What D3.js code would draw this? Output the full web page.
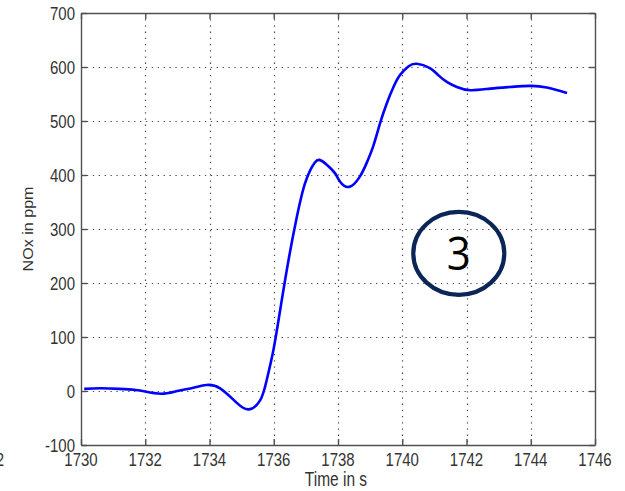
<!DOCTYPE html>
<html>
<head>
<meta charset="utf-8">
<script src="https://cdn.jsdelivr.net/npm/d3@7"></script>
<style>
  body { margin: 0; background: #fff; }
  svg { display: block; }
  .tick-label { font-family: "Liberation Sans", Arial, sans-serif; fill: #333; }
</style>
</head>
<body>
<svg id="chart" width="625" height="491"></svg>
<script>
// NOx trace
var times = [1730.1, 1730.6, 1731.2, 1731.7, 1732.0, 1732.5, 1733.0, 1733.5, 1733.9, 1734.33,
             1734.85, 1735.23, 1735.58, 1735.78, 1735.99, 1736.2, 1736.48, 1736.71, 1736.84, 1736.97,
             1737.13, 1737.28, 1737.42, 1737.65, 1737.91, 1738.06, 1738.35, 1738.68, 1738.89, 1739.1,
             1739.31, 1739.52, 1739.72, 1739.93, 1740.19, 1740.45, 1740.86, 1741.12, 1741.4, 1741.7,
             1742.12, 1742.74, 1743.36, 1743.99, 1744.5, 1745.13];
var nox = [4, 5, 4, 2, -1, -5, 0, 6, 11, 5,
           -22, -34, -17, 20, 76, 150, 249, 320, 355, 384,
           408, 423, 428, 419, 403, 388, 378, 397, 422, 454,
           496, 533, 562, 585, 601, 606, 598, 585, 572, 563,
           557, 560, 563, 565, 562, 552];

var xTicks = [1730, 1732, 1734, 1736, 1738, 1740, 1742, 1744, 1746];
var yTicks = [-100, 0, 100, 200, 300, 400, 500, 600, 700];
var xLabel = "Time in s";
var yLabel = "NOx in ppm";
var badge = "3";

// plot box (note: "top" is taken by window.top)
var boxL = 81, boxR = 595, boxT = 13, boxB = 445;
var svg = d3.select("#chart");

var x = d3.scaleLinear().domain([1730, 1746]).range([boxL, boxR]);
var y = d3.scaleLinear().domain([-100, 700]).range([boxB, boxT]);

// dotted grid
var grid = svg.append("g").attr("stroke", "#4a4a4a").attr("stroke-width", 1.2);
grid.selectAll("line.vg")
    .data(xTicks.slice(1, -1))
  .enter().append("line")
    .attr("x1", function (d) { return Math.round(x(d)) + 0.5; })
    .attr("x2", function (d) { return Math.round(x(d)) + 0.5; })
    .attr("y1", boxT).attr("y2", boxB)
    .attr("stroke-dasharray", "1.3,4.9");
grid.selectAll("line.hg")
    .data(yTicks.slice(1, -1))
  .enter().append("line")
    .attr("y1", function (d) { return Math.round(y(d)) + 0.5; })
    .attr("y2", function (d) { return Math.round(y(d)) + 0.5; })
    .attr("x1", boxL).attr("x2", boxR)
    .attr("stroke-dasharray", "1.3,4.6");

// axes, ticks pointing inward on all four sides
var tickLen = 6;
var xAxisB = d3.axisBottom(x).tickValues(xTicks).tickSize(-tickLen).tickSizeOuter(0).tickFormat("");
var xAxisT = d3.axisTop(x).tickValues(xTicks).tickSize(-tickLen).tickSizeOuter(0).tickFormat("");
var yAxisL = d3.axisLeft(y).tickValues(yTicks).tickSize(-tickLen).tickSizeOuter(0).tickFormat("");
var yAxisR = d3.axisRight(y).tickValues(yTicks).tickSize(-tickLen).tickSizeOuter(0).tickFormat("");

function styleAxis(g) {
    g.selectAll("path").attr("stroke", "#505050").attr("stroke-width", 1.4);
    g.selectAll("line").attr("stroke", "#505050").attr("stroke-width", 1.4);
}
svg.append("g").attr("transform", "translate(0," + boxB + ")").call(xAxisB).call(styleAxis);
svg.append("g").attr("transform", "translate(0," + boxT + ")").call(xAxisT).call(styleAxis);
svg.append("g").attr("transform", "translate(" + boxL + ",0)").call(yAxisL).call(styleAxis);
svg.append("g").attr("transform", "translate(" + boxR + ",0)").call(yAxisR).call(styleAxis);

// tick labels: the picture is a little stretched vertically
var fs = 15, stretch = 1.2;
svg.selectAll("text.xt")
    .data(xTicks)
  .enter().append("text")
    .attr("class", "tick-label")
    .attr("text-anchor", "middle")
    .attr("font-size", fs)
    .attr("transform", function (d) {
        return "translate(" + x(d) + "," + (boxB + 21) + ") scale(1," + stretch + ")";
    })
    .text(function (d) { return d; });
svg.selectAll("text.yt")
    .data(yTicks)
  .enter().append("text")
    .attr("class", "tick-label")
    .attr("text-anchor", "end")
    .attr("font-size", fs)
    .attr("transform", function (d) {
        return "translate(" + (boxL - 6) + "," + (y(d) + 6.5) + ") scale(1," + stretch + ")";
    })
    .text(function (d) { return d; });

// clipped label remnant at the far left
svg.append("text")
    .attr("class", "tick-label")
    .attr("text-anchor", "end")
    .attr("font-size", fs)
    .attr("transform", "translate(4," + (boxB + 21) + ") scale(1," + stretch + ")")
    .text("2");

svg.append("text")
    .attr("class", "tick-label")
    .attr("text-anchor", "middle")
    .attr("font-size", 15.5)
    .attr("transform", "translate(" + ((boxL + boxR) / 2 - 2) + "," + (boxB + 41) + ") scale(1,1.25)")
    .text(xLabel);
svg.append("text")
    .attr("class", "tick-label")
    .attr("text-anchor", "middle")
    .attr("font-size", 14)
    .attr("transform", "translate(33," + ((boxT + boxB) / 2) + ") rotate(-90) scale(1.15,1)")
    .text(yLabel);

// the trace
var pts = d3.zip(times, nox);
var line = d3.line()
    .x(function (d) { return x(d[0]); })
    .y(function (d) { return y(d[1]); })
    .curve(d3.curveNatural);
svg.append("path")
    .datum(pts)
    .attr("d", line)
    .attr("fill", "none")
    .attr("stroke", "#0000ff")
    .attr("stroke-width", 2.6)
    .attr("stroke-linejoin", "round");

// circled "3" annotation
var badgeX = x(1741.76), badgeY = y(255);
svg.append("ellipse")
    .attr("cx", badgeX).attr("cy", badgeY)
    .attr("rx", 45.5).attr("ry", 41.5)
    .attr("fill", "none")
    .attr("stroke", "#0b2557")
    .attr("stroke-width", 4.2);
svg.append("text")
    .attr("text-anchor", "middle")
    .attr("font-family", "'Open Sans', 'Liberation Sans', sans-serif")
    .attr("font-size", 42)
    .attr("fill", "#000")
    .attr("transform", "translate(" + badgeX + "," + (badgeY + 17) + ") scale(1,1.1)")
    .text(badge);
</script>
</body>
</html>
